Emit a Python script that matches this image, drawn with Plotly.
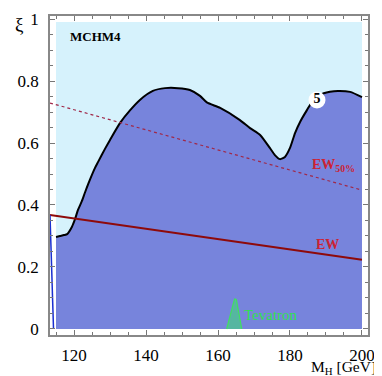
import plotly.graph_objects as go

# boundary of the allowed region (black contour), M_H in GeV vs xi
mh_curve = [115.0, 116.1, 117.2, 118.1, 119.4, 120.3, 121.1, 122.2, 123.1, 124.4,
            125.8, 126.7, 128.6, 130.0, 132.8, 135.6, 138.3, 141.9, 145.3, 148.9,
            152.2, 155.0, 156.9, 160.6, 166.1, 168.9, 171.7, 174.4, 175.8, 177.2,
            178.6, 180.0, 181.4, 182.8, 184.7, 186.1, 188.3, 191.1, 193.3, 196.7, 200.0]
xi_curve = [0.297, 0.300, 0.303, 0.306, 0.329, 0.355, 0.384, 0.413, 0.442, 0.481,
            0.519, 0.539, 0.581, 0.610, 0.665, 0.706, 0.739, 0.768, 0.777, 0.777,
            0.771, 0.752, 0.731, 0.713, 0.674, 0.648, 0.626, 0.584, 0.561, 0.548,
            0.555, 0.584, 0.632, 0.668, 0.706, 0.732, 0.755, 0.765, 0.768, 0.765, 0.748]

# full scanned region (light blue background)
mh_region = [115.0, 200.0]
xi_region = [0.99, 0.99]

# EW bounds
mh_ew = [113.33, 200.0]
xi_ew = [0.368, 0.223]
xi_ew50 = [0.729, 0.448]

# steep blue line at the left edge
mh_left = [113.33, 114.3]
xi_left = [0.368, 0.003]

# Tevatron excluded sliver
mh_tev = [162.4, 164.6, 165.1, 166.6]
xi_tev = [0.0, 0.097, 0.095, 0.0]

serif = "Liberation Serif"

fig = go.Figure()

fig.add_trace(go.Scatter(x=mh_region, y=xi_region, mode="lines", fill="tozeroy",
                         fillcolor="#d6f2fc", line=dict(width=0), hoverinfo="skip"))
fig.add_trace(go.Scatter(x=mh_curve, y=xi_curve, mode="lines", fill="tozeroy",
                         fillcolor="#7784dc",
                         line=dict(color="black", width=2, shape="spline", smoothing=0.6),
                         hoverinfo="skip"))
fig.add_trace(go.Scatter(x=mh_ew, y=xi_ew50, mode="lines",
                         line=dict(color="#a02848", width=1.2, dash="dot")))
fig.add_trace(go.Scatter(x=mh_ew, y=xi_ew, mode="lines",
                         line=dict(color="#8e0a0a", width=2)))
fig.add_trace(go.Scatter(x=mh_left, y=xi_left, mode="lines",
                         line=dict(color="#1a2fd0", width=1.5)))
fig.add_trace(go.Scatter(x=mh_tev, y=xi_tev, mode="lines", fill="toself",
                         fillcolor="rgba(80,190,150,0.85)",
                         line=dict(color="#40e060", width=1.2)))

# contour label "5"
fig.add_trace(go.Scatter(x=[187.5], y=[0.739], mode="markers+text", text=["<b>5</b>"],
                         textposition="middle center",
                         marker=dict(color="white", size=17),
                         textfont=dict(family=serif, size=14, color="black")))

fig.add_annotation(x=118.3, y=0.942, text="<b>MCHM4</b>", showarrow=False, xanchor="left",
                   font=dict(family=serif, size=13, color="black"))
fig.add_annotation(x=190.3, y=0.271, text="<b>EW</b>", showarrow=False,
                   font=dict(family=serif, size=14, color="#cc2233"))
fig.add_annotation(x=192.0, y=0.526, text="<b>EW<sub>50%</sub></b>", showarrow=False,
                   font=dict(family=serif, size=14, color="#cc2233"))
fig.add_annotation(x=166.6, y=0.045, text="Tevatron", showarrow=False, xanchor="left",
                   font=dict(family=serif, size=15, color="#30e050"))

# axis labels
fig.add_annotation(xref="paper", yref="paper", x=-0.115, y=1.012, text="ξ",
                   showarrow=False, font=dict(family=serif, size=19, color="black"))
fig.add_annotation(xref="paper", yref="paper", x=1.03, y=-0.138, xanchor="right", yanchor="bottom",
                   text="M<sub>H</sub> [GeV]", showarrow=False,
                   font=dict(family=serif, size=15.5, color="black"))

axis_common = dict(showgrid=False, zeroline=False, showline=True, linecolor="#888888",
                   linewidth=1.5, mirror="ticks", ticks="inside", tickcolor="#777777",
                   ticklen=5, tickwidth=1, automargin=False,
                   tickfont=dict(family=serif, size=17, color="black"))

# page body adds an 8px offset, so the figure is 8px smaller with tighter left/top margins
fig.update_layout(
    width=374, height=368,
    margin=dict(l=42, r=14, t=8, b=41, autoexpand=False),
    paper_bgcolor="white", plot_bgcolor="white",
    showlegend=False,
    font=dict(family=serif),
    xaxis=dict(range=[113.33, 201.67], tickvals=[120, 140, 160, 180, 200],
               minor=dict(dtick=5, tick0=115, ticks="inside", ticklen=3, tickcolor="#777777"),
               ticklabelstandoff=4,
               **axis_common),
    yaxis=dict(range=[-0.0194, 1.0097], tickvals=[0, 0.2, 0.4, 0.6, 0.8, 1],
               ticktext=["0", "0.2", "0.4", "0.6", "0.8", "1"],
               minor=dict(dtick=0.05, tick0=0, ticks="inside", ticklen=3, tickcolor="#777777"),
               ticklabelstandoff=6,
               **axis_common),
)

fig.write_html("out.html")
